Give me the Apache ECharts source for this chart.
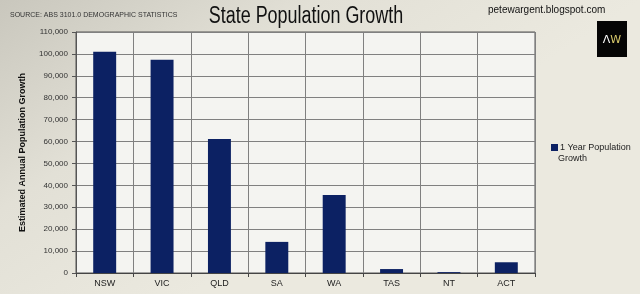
<!DOCTYPE html>
<html>
<head>
<meta charset="utf-8">
<script src="https://cdn.jsdelivr.net/npm/echarts@6/dist/echarts.min.js"></script>
<style>
  html, body { margin: 0; padding: 0; }
  #chart { width: 640px; height: 294px; }
</style>
</head>
<body>
<div id="chart"></div>
<script>
// states
const states = ['NSW', 'VIC', 'QLD', 'SA', 'WA', 'TAS', 'NT', 'ACT']
// 1 year population growth
const growth = [101000, 97300, 61200, 14200, 35600, 1800, 400, 4900]
const seriesName = '1 Year Population Growth'

const chart = echarts.init(document.getElementById('chart'))

const option = {
  animation: false,
  backgroundColor: {
    type: 'linear', x: 0, y: 0, x2: 0.3, y2: 1,
    colorStops: [
      { offset: 0, color: '#c9c7bd' },
      { offset: 0.5, color: '#e2e0d6' },
      { offset: 1, color: '#ebe9df' }
    ]
  },
  legend: {
    orient: 'vertical',
    left: 546,
    top: 138,
    itemWidth: 7,
    itemHeight: 7,
    icon: 'rect',
    // legend wraps the name onto two lines, second line drawn below
    formatter: () => '1 Year Population',
    textStyle: {
      fontFamily: 'Liberation Sans',
      fontSize: 9,
      color: '#222',
      padding: [0, 0, 0, -3]
    },
    data: [seriesName]
  },
  grid: {
    left: 76,
    right: 105,
    top: 32,
    bottom: 21,
    show: true,
    backgroundColor: '#f4f4f1',
    borderColor: '#555',
    borderWidth: 1
  },
  xAxis: {
    type: 'category',
    data: states,
    axisLine: { lineStyle: { color: '#444' } },
    axisTick: { show: true, length: 4, lineStyle: { color: '#444' } },
    splitLine: { show: true, lineStyle: { color: '#808080', width: 1 } },
    axisLabel: {
      fontFamily: 'Liberation Sans',
      fontSize: 9,
      color: '#222',
      margin: 6
    }
  },
  yAxis: {
    type: 'value',
    min: 0,
    max: 110000,
    interval: 10000,
    name: 'Estimated Annual Population Growth',
    nameLocation: 'middle',
    nameGap: 49,
    nameTextStyle: {
      fontFamily: 'Liberation Sans',
      fontSize: 9,
      fontWeight: 'bold',
      color: '#111'
    },
    axisLine: { show: true, lineStyle: { color: '#555' } },
    axisTick: { show: true, length: 4, lineStyle: { color: '#555' } },
    splitLine: { show: true, lineStyle: { color: '#808080', width: 1 } },
    axisLabel: {
      fontFamily: 'Liberation Sans',
      fontSize: 8,
      color: '#333',
      margin: 8,
      formatter: v => v.toLocaleString('en-US')
    }
  },
  series: [
    {
      name: seriesName,
      type: 'bar',
      data: growth,
      barWidth: '40%',
      itemStyle: { color: '#0c2163' }
    }
  ],
  graphic: [
    // title, squeezed to look like the narrow face of the original
    {
      type: 'text',
      x: 306,
      y: 17,
      scaleX: 0.78,
      style: {
        text: 'State Population Growth',
        align: 'center',
        verticalAlign: 'middle',
        fontFamily: 'Liberation Sans',
        fontSize: 23,
        fill: '#111'
      }
    },
    {
      type: 'text',
      x: 558,
      y: 159,
      style: {
        text: 'Growth',
        verticalAlign: 'middle',
        fontFamily: 'Liberation Sans',
        fontSize: 9,
        fill: '#222'
      }
    },
    {
      type: 'text',
      left: 10,
      top: 12,
      style: {
        text: 'SOURCE: ABS 3101.0 DEMOGRAPHIC STATISTICS',
        fontFamily: 'Liberation Sans',
        fontSize: 7,
        fill: '#333'
      }
    },
    {
      type: 'text',
      left: 488,
      top: 5,
      style: {
        text: 'petewargent.blogspot.com',
        fontFamily: 'Liberation Sans',
        fontSize: 10,
        fill: '#111'
      }
    },
    {
      type: 'rect',
      shape: { x: 597, y: 21, width: 30, height: 36 },
      style: { fill: '#050505' }
    },
    {
      type: 'text',
      x: 612,
      y: 40,
      style: {
        text: '{a|Λ}{b|W}',
        align: 'center',
        verticalAlign: 'middle',
        rich: {
          a: { fontFamily: 'DejaVu Sans', fontSize: 11, fill: '#ffffff' },
          b: { fontFamily: 'DejaVu Sans', fontSize: 11, fill: '#d8c96a' }
        }
      }
    }
  ]
}

chart.setOption(option)
</script>
</body>
</html>
